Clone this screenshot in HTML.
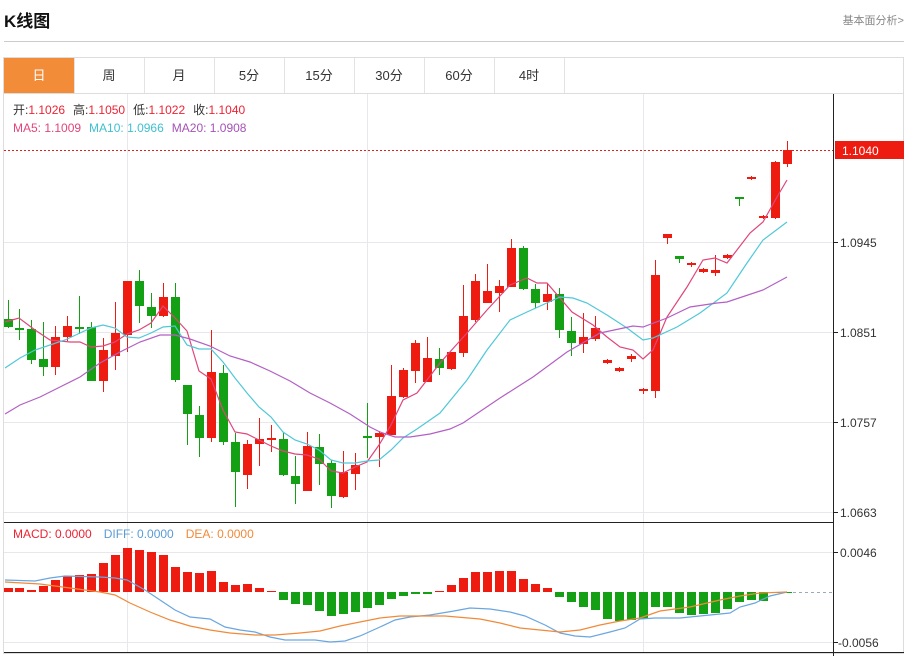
<!DOCTYPE html>
<html><head><meta charset="utf-8"><style>
body{margin:0;width:914px;height:656px;overflow:hidden;background:#fff;font-family:"Liberation Sans","Noto Sans CJK SC",sans-serif;}
svg{position:absolute;left:0;top:0}
</style></head><body>
<svg id="s" width="914" height="656" viewBox="0 0 914 656" xmlns="http://www.w3.org/2000/svg" font-family="Liberation Sans, Noto Sans CJK SC, sans-serif">
<text x="4" y="27" font-size="17" font-weight="bold" fill="#111">K线图</text>
<text x="904" y="24" font-size="11" fill="#888" text-anchor="end">基本面分析&gt;</text>
<line x1="4" y1="41.5" x2="904" y2="41.5" stroke="#ccc"/>
<rect x="3.5" y="57.5" width="900" height="596" fill="none" stroke="#ddd"/>
<line x1="3" y1="93.5" x2="904" y2="93.5" stroke="#ddd"/>
<rect x="4" y="58" width="70" height="35" fill="#f28c38"/>
<g font-size="13" fill="#333" text-anchor="middle">
<text x="39" y="80" fill="#fff">日</text>
<text x="109" y="80">周</text><text x="179" y="80">月</text><text x="249" y="80">5分</text>
<text x="319" y="80">15分</text><text x="389" y="80">30分</text><text x="459" y="80">60分</text><text x="529" y="80">4时</text>
</g>
<g stroke="#e3e3e3"><line x1="74.5" y1="58" x2="74.5" y2="93"/><line x1="144.5" y1="58" x2="144.5" y2="93"/><line x1="214.5" y1="58" x2="214.5" y2="93"/><line x1="284.5" y1="58" x2="284.5" y2="93"/><line x1="354.5" y1="58" x2="354.5" y2="93"/><line x1="424.5" y1="58" x2="424.5" y2="93"/><line x1="494.5" y1="58" x2="494.5" y2="93"/><line x1="564.5" y1="58" x2="564.5" y2="93"/></g>
<g stroke="#e8e8ec">
<line x1="4" y1="242.5" x2="833" y2="242.5"/><line x1="4" y1="332.5" x2="833" y2="332.5"/><line x1="4" y1="422.5" x2="833" y2="422.5"/><line x1="4" y1="512.5" x2="833" y2="512.5"/>
<line x1="4" y1="552.5" x2="833" y2="552.5"/><line x1="4" y1="642.5" x2="833" y2="642.5"/>
<line x1="127.5" y1="94" x2="127.5" y2="652"/><line x1="367.5" y1="94" x2="367.5" y2="652"/><line x1="643.5" y1="94" x2="643.5" y2="652"/>
</g>
<line x1="4" y1="522.5" x2="833" y2="522.5" stroke="#222"/>
<line x1="4" y1="652.5" x2="904" y2="652.5" stroke="#222"/>
<line x1="833.5" y1="94" x2="833.5" y2="656" stroke="#222"/>
<g stroke="#222"><line x1="833" y1="242.5" x2="838" y2="242.5"/><line x1="833" y1="332.5" x2="838" y2="332.5"/><line x1="833" y1="422.5" x2="838" y2="422.5"/><line x1="833" y1="512.5" x2="838" y2="512.5"/><line x1="833" y1="552.5" x2="838" y2="552.5"/><line x1="833" y1="642.5" x2="838" y2="642.5"/></g>
<g font-size="12" fill="#333"><text x="840" y="247">1.0945</text><text x="840" y="337">1.0851</text><text x="840" y="427">1.0757</text><text x="840" y="517">1.0663</text><text x="840" y="557">0.0046</text><text x="838" y="647">-0.0056</text></g>
<line x1="4" y1="150.5" x2="833" y2="150.5" stroke="#e02020" stroke-dasharray="2,2"/>
<rect x="835" y="141" width="69" height="18" fill="#ee1c10"/>
<text x="842" y="155" font-size="12" fill="#fff">1.1040</text>
<line x1="787" y1="592.5" x2="833" y2="592.5" stroke="#9ab" stroke-dasharray="3,3"/>
<g font-size="12">
<text x="13" y="114"><tspan fill="#333">开:</tspan><tspan fill="#e23">1.1026</tspan><tspan fill="#333" dx="8">高:</tspan><tspan fill="#e23">1.1050</tspan><tspan fill="#333" dx="8">低:</tspan><tspan fill="#e23">1.1022</tspan><tspan fill="#333" dx="8">收:</tspan><tspan fill="#e23">1.1040</tspan></text>
<text x="13" y="132"><tspan fill="#e0457b">MA5: 1.1009</tspan><tspan fill="#3fc1cf" dx="8">MA10: 1.0966</tspan><tspan fill="#a552b8" dx="8">MA20: 1.0908</tspan></text>
<text x="13" y="538"><tspan fill="#e23">MACD: 0.0000</tspan><tspan fill="#5b9bd5" dx="12">DIFF: 0.0000</tspan><tspan fill="#f08a3a" dx="12">DEA: 0.0000</tspan></text>
</g>
<g id="g"></g>
</svg>
<script>
var NS="http://www.w3.org/2000/svg",g=document.getElementById("g");
function el(t,a){var e=document.createElementNS(NS,t);for(var k in a)e.setAttribute(k,a[k]);g.appendChild(e);return e;}
var C=[
[8,'G',319,327,300,328],[19,'G',328,330,309,340],[31,'G',329,360,320,364],[43,'G',359,367,322,376],[55,'R',337,367,326,375],[67,'R',326,337,316,341],[79,'G',327,329,296,334],[91,'G',327,381,322,381],[103,'R',350,381,338,392],[115,'R',333,356,302,370],[127,'R',281,335,281,352],[139,'G',281,306,270,323],[151,'G',307,316,293,328],[163,'R',297,316,283,317],[175,'G',297,380,283,382],[187,'G',385,414,385,445],[199,'G',415,438,406,457],[211,'R',372,438,330,442],[223,'G',373,442,365,445],[235,'G',442,472,433,507],[247,'R',444,475,440,489],[259,'R',439,444,418,466],[271,'R',438,440,425,452],[283,'G',439,475,433,476],[295,'G',476,484,456,504],[307,'R',446,491,432,491],[319,'G',447,464,434,485],[331,'G',463,496,460,508],[343,'R',472,497,451,498],[355,'R',465,474,453,490],[367,'G',436,438,403,458],[379,'R',433,437,431,467],[391,'R',396,435,365,435],[403,'R',370,397,368,398],
[415,'R',343,371,340,383],[427,'R',358,382,337,382],[439,'G',359,368,348,375],[451,'R',352,369,352,370],[463,'R',316,353,285,357],[475,'R',281,320,274,322],[487,'R',291,303,264,303],[499,'R',286,293,280,312],[511,'R',248,287,239,287],[523,'G',248,289,246,290],[535,'G',289,303,284,308],[547,'R',294,302,283,310],[559,'G',294,330,288,338],[571,'G',331,343,317,356],[583,'R',337,344,313,353],[595,'R',328,339,316,341],[607,'R',360,363,359,364],[619,'R',368,371,367,372],[631,'R',356,359,354,362],[643,'R',389,391,388,394],[655,'R',275,391,260,398],[667,'R',234,238,234,244],[679,'G',256,259,256,263],[691,'R',263,265,262,267],[703,'R',269,272,268,273],[715,'R',270,273,255,276],[727,'R',255,258,254,259],[739,'G',197,199,197,206],[751,'R',177,179,176,180],[763,'R',216,218,215,219],[775,'R',162,218,161,219],[787,'R',150,164,141,167]];
C.forEach(function(c){var col=c[1]=='R'?'#ee1c10':'#14a014';
el('line',{x1:c[0]+.5,x2:c[0]+.5,y1:c[4],y2:c[5],stroke:col});
el('rect',{x:c[0]-4,y:c[2],width:9,height:Math.max(2,c[3]-c[2]),fill:col});});
var H=[[8,588],[19,588],[31,590],[43,586],[55,580],[67,576],[79,575],[91,574],[103,563],[115,555],[127,548],[139,550],[151,552],[163,555],[175,567],[187,572],[199,573],[211,571],[223,582],[235,585],[247,584],[259,588],[271,591],[283,600],[295,604],[307,605],[319,611],[331,616],[343,614],[355,612],[367,608],[379,605],[391,599],[403,596],[415,594],[427,594],[439,591],[451,585],[463,578],[475,572],[487,572],[499,571],[511,571],[523,579],[535,584],[547,588],[559,597],[571,602],[583,607],[595,610],[607,619],[619,621],[631,620],[643,619],[655,607],[667,607],[679,613],[691,615],[703,614],[715,613],[727,609],[739,602],[751,600],[763,601],[775,593],[787,592]];
H.forEach(function(h){var z=592;el('rect',{x:h[0]-4,y:Math.min(z,h[1]),width:9,height:Math.max(1,Math.abs(h[1]-z)),fill:h[1]<z?'#ee1c10':'#14a014'});});
function pl(p,c){el('polyline',{points:p,fill:'none',stroke:c,'stroke-width':1.2});}
pl("5,322 19,318 35,330 50,340 70,342 80,342 91,347 103,346 115,342 127,334 139,330 151,323 163,306 175,318 187,331 199,371 211,379 223,410 235,432 247,434 259,440 271,446 283,451 295,454 307,455 319,459 331,471 343,473 355,467 367,462 379,445 391,425 403,400 417,393 440,363 467,333 487,310 510,285 527,278 537,283 547,283 572,312 593,325 607,337 620,347 633,350 643,359 653,350 667,317 687,287 703,260 715,258 727,263 750,233 763,222 777,197 787,180","#e0457b");
pl("5,368 20,358 35,350 50,345 65,340 80,333 91,328 103,325 115,328 127,337 139,338 151,333 163,327 175,326 187,345 199,349 211,349 223,362 235,378 247,393 259,407 271,417 283,432 295,440 307,444 319,450 331,460 343,463 355,463 367,461 379,460 391,450 403,438 417,429 440,413 467,380 487,350 510,320 527,312 560,297 573,298 587,303 607,315 627,328 643,340 653,338 677,327 700,313 727,293 747,263 763,240 787,222","#4fc8d8");
pl("5,414 20,405 40,397 60,387 80,377 100,363 120,352 140,342 160,335 175,335 190,339 210,346 230,356 250,362 270,371 290,381 310,393 330,403 350,414 370,427 380,432 395,437 410,437 430,434 450,429 463,423 500,398 533,377 567,352 600,333 633,326 643,327 667,318 690,307 717,303 727,302 763,290 787,277","#b35fc4");
pl("5,580 35,581 50,578 65,576 100,577 115,578 127,580 145,590 160,600 175,610 190,617 210,619 225,627 240,630 255,632 270,637 285,640 315,640 330,642 345,641 360,636 380,627 395,620 410,617 430,615 454,611 470,608 490,609 510,612 525,616 545,625 560,633 575,636 590,637 610,632 625,628 640,619 655,618 680,618 700,616 730,613 740,607 755,603 770,596 787,592","#6aa6e0");
pl("5,582 40,584 70,588 100,592 115,595 130,603 150,612 170,620 190,626 210,630 230,633 255,635 275,635 300,633 320,631 340,626 360,622 380,618 400,616 445,616 480,619 500,623 520,628 540,630 560,632 580,630 600,625 620,621 640,618 660,611 690,607 720,600 740,596 760,593 787,592","#f08a3a");
</script>
</body></html>
